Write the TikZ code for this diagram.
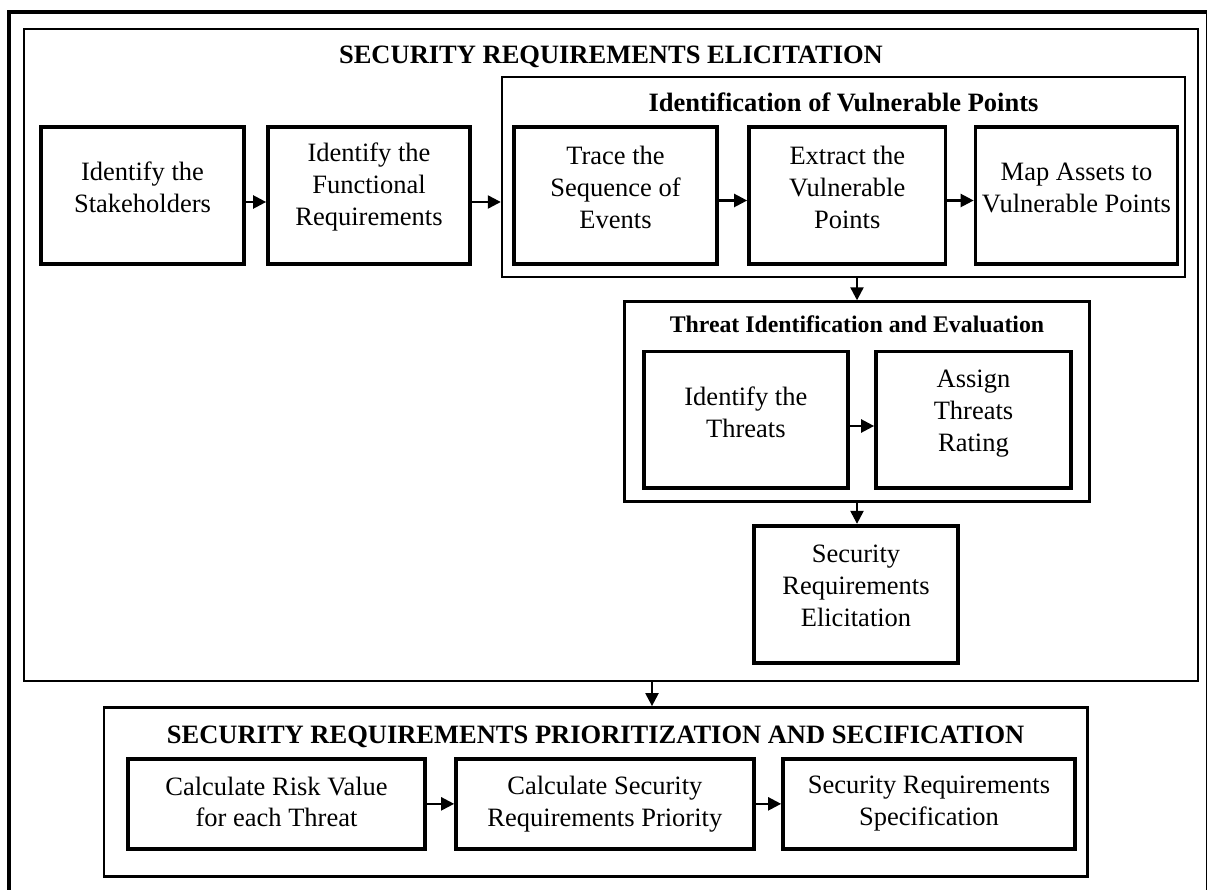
\documentclass[tikz,border=0pt]{standalone}
\usepackage{fontspec}
\setmainfont{Liberation Serif}
\usetikzlibrary{arrows.meta}
% invisible strut below the last line, lifting a text block inside its box
\newcommand\liftby[1]{\rule[-#1]{0pt}{#1}}
\begin{document}
\begin{tikzpicture}[x=1pt,y=-1pt,
  stepbox/.style={draw, rectangle, line width=3.7pt, inner sep=0pt, align=center,
    font=\fontsize{26.5}{31.8}\selectfont},
  groupbox/.style={draw, rectangle, line width=2.4pt, inner sep=0pt},
  pageframe/.style={draw, line width=3.3pt},
  flow/.style={line width=2.3pt, -{Triangle[length=13pt,width=13pt]}},
  heading/.style={anchor=base, inner sep=0pt, font=\bfseries\fontsize{26.5}{31.8}\selectfont},
  minorheading/.style={anchor=base, inner sep=0pt, font=\bfseries\fontsize{23.8}{28}\selectfont}
]
\useasboundingbox (0,0) rectangle (1207,890);

% page frame, open at the bottom edge
\draw[pageframe] (9,12) rectangle (1208,940);

% ---------- elicitation phase ----------
\node[groupbox, minimum width=1174pt, minimum height=652pt] (elic) at (611,355) {};
\node[heading] (elictitle) at (611,64) {SECURITY REQUIREMENTS ELICITATION};

\node[stepbox, minimum width=203pt, minimum height=137pt] (s1) at (142.5,195.5)
  {Identify the\\Stakeholders\liftby{16pt}};
\node[stepbox, minimum width=202pt, minimum height=137pt] (s2) at (369,195.5)
  {Identify the\\Functional\\Requirements\liftby{23pt}};

% vulnerable points group
\node[groupbox, minimum width=683pt, minimum height=200pt] (vul) at (843.5,177) {};
\node[heading] (vultitle) at (843.5,112) {Identification of Vulnerable Points};
\node[stepbox, minimum width=203pt, minimum height=137pt] (s3) at (615.5,195.5)
  {Trace the\\Sequence of\\Events\liftby{16pt}};
\node[stepbox, minimum width=196.5pt, minimum height=137pt] (s4) at (847.25,195.5)
  {Extract the\\Vulnerable\\Points\liftby{16pt}};
\node[stepbox, minimum width=202pt, minimum height=137pt] (s5) at (1076.5,195.5)
  {Map Assets to\\Vulnerable Points\liftby{16pt}};

% threat group
\node[groupbox, minimum width=465pt, minimum height=200pt] (thr) at (857,401.5) {};
\node[minorheading] (thrtitle) at (857,333) {Threat Identification and Evaluation};
\node[stepbox, minimum width=204.3pt, minimum height=136.5pt] (t1) at (745.85,419.75)
  {Identify the\\Threats\liftby{15pt}};
\node[stepbox, minimum width=195pt, minimum height=136.5pt] (t2) at (973.5,419.75)
  {Assign\\Threats\\Rating\liftby{18pt}};

\node[stepbox, minimum width=204.6pt, minimum height=137.6pt] (sre) at (856,594.5)
  {Security\\Requirements\\Elicitation\liftby{18pt}};

% ---------- prioritization phase ----------
\node[groupbox, minimum width=983.3pt, minimum height=169pt] (prio) at (595.65,791.8) {};
\node[heading] (priotitle) at (595.65,743) {SECURITY REQUIREMENTS PRIORITIZATION AND SECIFICATION};
\node[stepbox, minimum width=297pt, minimum height=90.3pt] (p1) at (276.5,803.85)
  {Calculate Risk Value\\for each Threat\liftby{4pt}};
\node[stepbox, minimum width=297.7pt, minimum height=90.3pt] (p2) at (604.85,803.85)
  {Calculate Security\\Requirements Priority};
\node[stepbox, minimum width=292pt, minimum height=90.3pt] (p3) at (929,803.85)
  {Security Requirements\\Specification};

% ---------- connectors ----------
\coordinate (a1) at ([yshift=-6.5pt]s1.east);
\coordinate (a2) at ([yshift=-6.5pt]s2.east);
\coordinate (a3) at ([yshift=-5pt]s3.east);
\coordinate (a4) at ([yshift=-5pt]s4.east);
\draw[flow] (a1) -- (a1 -| s2.west);
\draw[flow] (a2) -- (a2 -| vul.west);
\draw[flow] (a3) -- (a3 -| s4.west);
\draw[flow] (a4) -- (a4 -| s5.west);

\draw[flow] (thr.north |- vul.south) -- (thr.north);

\coordinate (b1) at ([yshift=-6.25pt]t1.east);
\draw[flow] (b1) -- (b1 -| t2.west);

\draw[flow] (thr.south) -- (thr.south |- sre.north);

\coordinate (e1) at ([xshift=41pt]elic.south);
\draw[flow] (e1) -- (e1 |- prio.north);

\draw[flow] (p1) -- (p2);
\draw[flow] (p2) -- (p3);
\end{tikzpicture}
\end{document}
